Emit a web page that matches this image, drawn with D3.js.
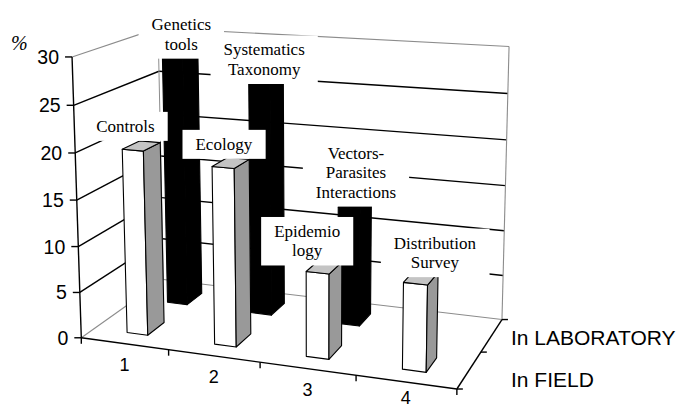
<!DOCTYPE html>
<html>
<head>
<meta charset="utf-8">
<script src="https://cdn.jsdelivr.net/npm/d3@7"></script>
<style>
  body { margin: 0; background: #fff; }
  svg { display: block; }
  .axis-text { font-family: "Liberation Sans", Arial, sans-serif; fill: #000; }
  .bar-label { font-family: "Liberation Serif", "Times New Roman", serif; font-size: 17px; fill: #000; }
</style>
</head>
<body>
<svg id="chart"></svg>
<script>
// Data (percent)
const categories = ["1", "2", "3", "4"];
const series = ["In FIELD", "In LABORATORY"];
const fieldValues = [20, 19, 9, 9];
const labValues = [28, 26, 13, null];
const fieldLabels = [["Controls"], ["Ecology"], ["Epidemio", "logy"], ["Distribution", "Survey"]];
const labLabels = [["Genetics", "tools"], ["Systematics", "Taxonomy"], ["Vectors-", "Parasites", "Interactions"], null];
const valueTicks = [0, 5, 10, 15, 20, 25, 30];

class Bar3DChart {

  constructor(_config) {
    this.config = {
      parentElement: _config.parentElement,
      containerWidth: _config.containerWidth || 678,
      containerHeight: _config.containerHeight || 408,
      // where the corners of the plot box sit on the page: [x, y, z (0..1), px, py]
      frame: [
        [0, 0, 0, 82, 337], [0, 1, 0, 72, 55], [0, 0, 1, 162, 279], [0, 1, 1, 158, 28],
        [1, 0, 1, 503, 318], [1, 1, 1, 509, 47], [1, 0, 0, 455, 389],
        [0.25, 0, 0, 170, 351], [0.5, 0, 0, 260, 363], [0.75, 0, 0, 355, 376],
        [1, 0, 0.5, 482, 352], [0, 0.5, 0, 77, 200], [0, 5 / 6, 1, 159, 73]
      ],
      // label centre offsets from the top of their bar
      fieldNudge: [[-16, -20], [-7, -19], [-17, -26], [14, -25]],
      labNudge: [[1, -21], [-2, -19], [1, -31], null]
    };
    this.initVis();
  }

  initVis() {
    let vis = this;

    vis.svg = d3.select(vis.config.parentElement)
        .attr('width', vis.config.containerWidth)
        .attr('height', vis.config.containerHeight);

    // world scales, every axis normalised to 0..1
    vis.xScale = d3.scaleBand().domain(categories).range([0, 1])
        .paddingInner(0.76).paddingOuter(0.38);
    vis.xEdge = d3.scaleLinear().domain([0, categories.length]).range([0, 1]);
    vis.yScale = d3.scaleLinear().domain([0, 30]).range([0, 1]);
    vis.zScale = d3.scaleBand().domain(series).range([0, 1])
        .paddingInner(0.6).paddingOuter(0.3);

    vis.project = fitProjection(vis.config.frame);

    vis.renderVis();
  }

  renderVis() {
    let vis = this;
    const P = vis.project;
    const grey = "#8c8c8c";

    const line = (a, b, color, w) => vis.svg.append("line")
        .attr("x1", a[0]).attr("y1", a[1]).attr("x2", b[0]).attr("y2", b[1])
        .attr("stroke", color).attr("stroke-width", w);

    // walls: side wall (x=0) and back wall (z=1) gridlines
    valueTicks.filter(t => t > 0).forEach(t => {
      const yy = vis.yScale(t);
      const c = t === 30 ? grey : "#000";
      const w = t === 30 ? 1.1 : 1.4;
      line(P(0, yy, 0), P(0, yy, 1), c, w);
      line(P(0, yy, 1), P(1, yy, 1), c, w);
    });
    line(P(0, 0, 0), P(0, 0, 1), grey, 1.1);
    line(P(0, 0, 1), P(1, 0, 1), grey, 1.1);
    line(P(0, 0, 1), P(0, 1, 1), grey, 1);
    line(P(1, 0, 1), P(1, 1, 1), grey, 1.1);

    // bars: back row first
    const rows = [
      { s: series[1], values: labValues, dark: true },
      { s: series[0], values: fieldValues, dark: false }
    ];
    rows.forEach(row => {
      row.values.forEach((v, i) => {
        if (v == null) return;
        const x0 = vis.xScale(categories[i]), x1 = x0 + vis.xScale.bandwidth();
        const z0 = vis.zScale(row.s), z1 = z0 + vis.zScale.bandwidth();
        const y0 = 0, y1 = vis.yScale(v);
        const faces = [
          { pts: [[x0, y0, z0], [x1, y0, z0], [x1, y1, z0], [x0, y1, z0]], fill: "#fff" },
          { pts: [[x0, y0, z1], [x0, y1, z1], [x1, y1, z1], [x1, y0, z1]], fill: "#fff" },
          { pts: [[x1, y0, z0], [x1, y0, z1], [x1, y1, z1], [x1, y1, z0]], fill: "#999" },
          { pts: [[x0, y0, z1], [x0, y0, z0], [x0, y1, z0], [x0, y1, z1]], fill: "#999" },
          { pts: [[x0, y1, z0], [x1, y1, z0], [x1, y1, z1], [x0, y1, z1]], fill: "#c4c4c4" }
        ];
        const g = vis.svg.append("g");
        faces.forEach(f => {
          const pp = f.pts.map(p => P(...p));
          // d3.polygonArea is positive for faces turned towards us here
          if (d3.polygonArea(pp) <= 0) return;
          g.append("path")
              .attr("d", "M" + pp.join("L") + "Z")
              .attr("fill", row.dark ? "#000" : f.fill)
              .attr("stroke", "#000")
              .attr("stroke-width", 1.1)
              .attr("stroke-linejoin", "round");
        });
      });
    });

    // axes
    line(P(0, 0, 0), P(0, 1, 0), "#000", 1.4);
    line(P(0, 0, 0), P(1, 0, 0), "#000", 1.4);
    line(P(1, 0, 0), P(1, 0, 1), "#000", 1.4);

    valueTicks.forEach(t => {
      const p = P(0, vis.yScale(t), 0);
      line(p, [p[0] - 7, p[1]], "#000", 1.4);
      vis.svg.append("text").attr("class", "axis-text")
          .attr("x", p[0] - 13).attr("y", p[1]).attr("dy", "0.36em")
          .attr("text-anchor", "end").style("font-size", "19.5px")
          .text(t);
    });
    d3.range(categories.length + 1).forEach(k => {
      const p = P(vis.xEdge(k), 0, 0);
      line(p, [p[0], p[1] + 6], "#000", 1.4);
    });
    categories.forEach(c => {
      const p = P(vis.xScale(c) + vis.xScale.bandwidth() / 2, 0, 0);
      vis.svg.append("text").attr("class", "axis-text")
          .attr("x", p[0]).attr("y", Math.min(p[1] + 27, 404))
          .attr("text-anchor", "middle").style("font-size", "18px")
          .text(c);
    });
    [0, 0.5, 1].forEach(zz => {
      const p = P(1, 0, zz);
      line(p, [p[0] + 6, p[1]], "#000", 1.4);
    });
    const corner = P(1, 0, 1);
    series.forEach((s, i) => {
      const p = P(1, 0, vis.zScale(s) + vis.zScale.bandwidth() / 2);
      vis.svg.append("text").attr("class", "axis-text")
          .attr("x", corner[0] + 9).attr("y", p[1] + (i === 0 ? 17 : 10))
          .style("font-size", "21px")
          .text(s);
    });

    vis.svg.append("text")
        .attr("x", 11).attr("y", 50)
        .attr("font-family", "Liberation Serif, serif")
        .attr("font-style", "italic")
        .style("font-size", "20px")
        .text("%");

    // data labels with white boxes
    const labelRows = [
      { s: series[0], values: fieldValues, labels: fieldLabels, nudge: vis.config.fieldNudge },
      { s: series[1], values: labValues, labels: labLabels, nudge: vis.config.labNudge }
    ];
    const lh = 19.5;
    labelRows.forEach(row => {
      row.values.forEach((v, i) => {
        if (v == null || !row.labels[i]) return;
        const top = P(vis.xScale(categories[i]) + vis.xScale.bandwidth() / 2, vis.yScale(v),
                      vis.zScale(row.s) + vis.zScale.bandwidth() / 2);
        const cx = top[0] + row.nudge[i][0], cy = top[1] + row.nudge[i][1];
        const lines = row.labels[i];
        const g = vis.svg.append("g");
        const rect = g.append("rect").attr("fill", "#fff");
        const txt = g.append("text").attr("class", "bar-label").attr("text-anchor", "middle");
        lines.forEach((l, j) => {
          txt.append("tspan").attr("x", cx)
              .attr("y", cy + (j - (lines.length - 1) / 2) * lh)
              .attr("dy", "0.35em").text(l);
        });
        const bb = txt.node().getBBox();
        rect.attr("x", bb.x - 13).attr("y", bb.y - 5)
            .attr("width", bb.width + 26).attr("height", bb.height + 10);
      });
    });
  }
}

// least-squares fit of a perspective camera (3x4 matrix) to the frame anchors
function fitProjection(anchors) {
  const n = 11;
  const M = d3.range(n).map(() => new Array(n + 1).fill(0));
  const rows = [];
  anchors.forEach(([X, Y, Z, u, v]) => {
    u /= 100; v /= 100;
    rows.push([[X, Y, Z, 1, 0, 0, 0, 0, -u * X, -u * Y, -u * Z], u]);
    rows.push([[0, 0, 0, 0, X, Y, Z, 1, -v * X, -v * Y, -v * Z], v]);
  });
  rows.forEach(([r, b]) => {
    for (let i = 0; i < n; i++) {
      for (let j = 0; j < n; j++) M[i][j] += r[i] * r[j];
      M[i][n] += r[i] * b;
    }
  });
  for (let c = 0; c < n; c++) {
    let p = c;
    for (let r = c + 1; r < n; r++) if (Math.abs(M[r][c]) > Math.abs(M[p][c])) p = r;
    [M[c], M[p]] = [M[p], M[c]];
    for (let r = 0; r < n; r++) {
      if (r === c) continue;
      const f = M[r][c] / M[c][c];
      for (let k = c; k <= n; k++) M[r][k] -= f * M[c][k];
    }
  }
  const q = M.map((r, i) => r[n] / r[i]);
  return (X, Y, Z) => {
    const w = q[8] * X + q[9] * Y + q[10] * Z + 1;
    return [100 * (q[0] * X + q[1] * Y + q[2] * Z + q[3]) / w,
            100 * (q[4] * X + q[5] * Y + q[6] * Z + q[7]) / w];
  };
}

new Bar3DChart({ parentElement: '#chart' });
</script>
</body>
</html>
